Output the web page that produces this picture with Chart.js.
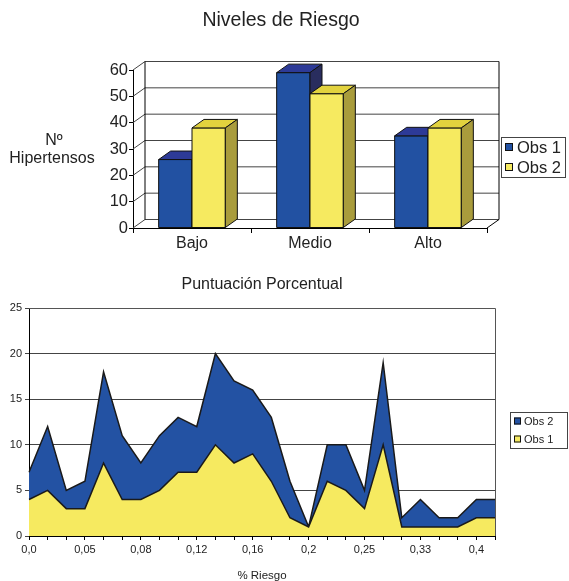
<!DOCTYPE html>
<html>
<head>
<meta charset="utf-8">
<script src="https://cdn.jsdelivr.net/npm/chart.js@4"></script>
<style>
  html, body { margin: 0; padding: 0; background: #fff; }
  #wrap { position: relative; width: 569px; height: 581px; }
  canvas { position: absolute; left: 0; }
</style>
</head>
<body>
<div id="wrap">
  <canvas id="niveles" width="569" height="262" style="top:0"></canvas>
  <canvas id="puntuacion" width="569" height="319" style="top:262px"></canvas>
</div>
<script>
// Niveles de Riesgo
const riskLevels = ['Bajo', 'Medio', 'Alto'];
const obs1Levels = [26, 59, 35];
const obs2Levels = [38, 51, 38];
const levelTicks = [0, 10, 20, 30, 40, 50, 60];

// Puntuación Porcentual
const riskPct = ['0,0', '', '', '0,05', '', '', '0,08', '', '', '0,12', '', '', '0,16',
                 '', '', '0,2', '', '', '0,25', '', '', '0,33', '', '', '0,4', ''];
const obs1Pct = [4, 5, 3, 3, 8, 4, 4, 5, 7, 7, 10, 8, 9, 6, 2, 1, 6, 5, 3, 10, 1, 1, 1, 1, 2, 2];
const obs2Pct = [3, 7, 2, 3, 10, 7, 4, 6, 6, 5, 10, 9, 7, 7, 4, 0, 4, 5, 2, 9, 1, 3, 1, 1, 2, 2];
const pctTicks = [0, 5, 10, 15, 20, 25];

const FONT = '"Liberation Sans", Arial, sans-serif';
const TEXT = '#222';
const BLUE = '#2251A2';
const YELLOW = '#F6EA60';

// oblique depth of the 3D box
const DX = 12, DY = 8.5;

// walls, floor and gridlines of the 3D box, behind the columns
const wall3d = {
  id: 'wall3d',
  beforeDatasetsDraw(chart) {
    const { ctx, chartArea: a, scales: { y } } = chart;
    ctx.save();
    ctx.lineWidth = 1;
    ctx.strokeStyle = '#444';
    levelTicks.forEach(v => {
      const py = y.getPixelForValue(v);
      ctx.beginPath();
      ctx.moveTo(a.left, py);
      ctx.lineTo(a.left + DX, py - DY);
      ctx.lineTo(a.right + DX, py - DY);
      ctx.stroke();
    });
    ctx.strokeStyle = '#000';
    ctx.beginPath();
    // left wall back edge
    ctx.moveTo(a.left + DX, a.top - DY);
    ctx.lineTo(a.left + DX, a.bottom - DY);
    // back wall right edge
    ctx.moveTo(a.right + DX, a.top - DY);
    ctx.lineTo(a.right + DX, a.bottom - DY);
    // floor right edge
    ctx.lineTo(a.right, a.bottom);
    ctx.stroke();
    ctx.restore();
  }
};

// front, top and side faces of each column, category by category
const bars3d = {
  id: 'bars3d',
  afterDatasetsDraw(chart) {
    const ctx = chart.ctx;
    const sets = chart.data.datasets;
    const metas = sets.map((d, i) => chart.getDatasetMeta(i));
    ctx.save();
    ctx.lineWidth = 1;
    ctx.strokeStyle = '#111';
    ctx.lineJoin = 'round';
    for (let j = 0; j < chart.data.labels.length; j++) {
      metas.forEach((meta, i) => {
        const ds = sets[i];
        const { x, y, base, width } = meta.data[j].getProps(['x', 'y', 'base', 'width'], true);
        const l = x - width / 2, r = x + width / 2;
        const poly = (pts, fill) => {
          ctx.beginPath();
          ctx.moveTo(pts[0][0], pts[0][1]);
          for (let k = 1; k < pts.length; k++) ctx.lineTo(pts[k][0], pts[k][1]);
          ctx.closePath();
          ctx.fillStyle = fill;
          ctx.fill();
          ctx.stroke();
        };
        poly([[l, y], [r, y], [r, base], [l, base]], ds.backgroundColor);
        poly([[l, y], [l + DX, y - DY], [r + DX, y - DY], [r, y]], ds.topColor);
        poly([[r, y], [r + DX, y - DY], [r + DX, base - DY], [r, base]], ds.sideColor);
      });
    }
    ctx.restore();
  }
};

function legendBox(ctx, x, y, w, h, rows, size, sq, rowH, gap) {
  ctx.save();
  ctx.fillStyle = '#fff';
  ctx.fillRect(x, y, w, h);
  ctx.strokeStyle = '#444';
  ctx.lineWidth = 1;
  ctx.strokeRect(x + 0.5, y + 0.5, w, h);
  ctx.font = size + 'px ' + FONT;
  ctx.textBaseline = 'middle';
  rows.forEach((row, i) => {
    const cy = y + h / 2 + (i - (rows.length - 1) / 2) * rowH;
    ctx.fillStyle = row.color;
    ctx.fillRect(x + 4, cy - sq / 2, sq, sq);
    ctx.strokeStyle = '#111';
    ctx.strokeRect(x + 4.5, cy - sq / 2 + 0.5, sq - 1, sq - 1);
    ctx.fillStyle = TEXT;
    ctx.fillText(row.text, x + 4 + sq + gap, cy + 1);
  });
  ctx.restore();
}

const decorTop = {
  id: 'decorTop',
  afterDraw(chart) {
    const ctx = chart.ctx;
    ctx.save();
    ctx.fillStyle = TEXT;
    ctx.textAlign = 'center';
    ctx.textBaseline = 'middle';
    ctx.font = '19.5px ' + FONT;
    ctx.fillText('Niveles de Riesgo', 281, 21);
    ctx.font = '16px ' + FONT;
    ctx.textBaseline = 'alphabetic';
    ctx.fillText('Nº', 54, 145);
    ctx.fillText('Hipertensos', 52, 163);
    ctx.restore();
    const sets = chart.data.datasets;
    legendBox(ctx, 501, 137, 64, 40,
      sets.map(d => ({ text: d.label, color: d.backgroundColor })), 16.5, 8, 20, 4);
  }
};

new Chart(document.getElementById('niveles'), {
  type: 'bar',
  data: {
    labels: riskLevels,
    datasets: [
      { label: 'Obs 1', data: obs1Levels, backgroundColor: BLUE, topColor: '#2D3A97', sideColor: '#292D5E',
        borderColor: '#111', borderWidth: 1, categoryPercentage: 0.565, barPercentage: 1 },
      { label: 'Obs 2', data: obs2Levels, backgroundColor: YELLOW, topColor: '#E2D23E', sideColor: '#A99C3C',
        borderColor: '#111', borderWidth: 1, categoryPercentage: 0.565, barPercentage: 1 }
    ]
  },
  options: {
    responsive: false,
    animation: false,
    layout: { padding: { left: 93, right: 82, top: 70, bottom: 0 } },
    plugins: { legend: { display: false }, title: { display: false }, tooltip: { enabled: false } },
    scales: {
      x: {
        grid: { drawOnChartArea: false, drawTicks: true, tickLength: 5, color: '#000', offset: true },
        border: { display: true, color: '#000' },
        ticks: { font: { family: FONT, size: 16 }, color: TEXT, padding: 1 },
        afterFit(s) { s.height = 34; }
      },
      y: {
        min: 0, max: 60,
        ticks: { stepSize: 10, font: { family: FONT, size: 16.5 }, color: TEXT, padding: 1 },
        grid: { drawOnChartArea: false, tickLength: 4, color: '#000' },
        border: { display: true, color: '#000' },
        afterFit(s) { s.width = 40; }
      }
    }
  },
  plugins: [wall3d, bars3d, decorTop]
});

const decorBottom = {
  id: 'decorBottom',
  afterDatasetsDraw(chart) {
    const { ctx, chartArea: a } = chart;
    ctx.save();
    ctx.strokeStyle = '#555';
    ctx.lineWidth = 1;
    ctx.beginPath();
    ctx.moveTo(a.left, Math.round(a.top) + 0.5);
    ctx.lineTo(Math.round(a.right) + 0.5, Math.round(a.top) + 0.5);
    ctx.lineTo(Math.round(a.right) + 0.5, a.bottom);
    ctx.stroke();
    ctx.restore();
  },
  afterDraw(chart) {
    const ctx = chart.ctx;
    ctx.save();
    ctx.fillStyle = TEXT;
    ctx.textAlign = 'center';
    ctx.textBaseline = 'middle';
    ctx.font = '16px ' + FONT;
    ctx.fillText('Puntuación Porcentual', 262, 23);
    ctx.font = '11.5px ' + FONT;
    ctx.fillText('% Riesgo', 262, 314);
    ctx.restore();
    const sets = chart.data.datasets.slice().reverse();
    legendBox(ctx, 510, 150, 57, 36,
      sets.map(d => ({ text: d.label, color: d.backgroundColor })), 11, 7, 18, 3);
  }
};

new Chart(document.getElementById('puntuacion'), {
  type: 'line',
  data: {
    labels: riskPct,
    datasets: [
      { label: 'Obs 1', data: obs1Pct, backgroundColor: YELLOW, borderColor: '#1a1a1a', borderWidth: 1.5,
        fill: 'origin', pointRadius: 0, tension: 0 },
      { label: 'Obs 2', data: obs2Pct, backgroundColor: '#2352A3', borderColor: '#1a1a1a', borderWidth: 1.5,
        fill: '-1', pointRadius: 0, tension: 0 }
    ]
  },
  options: {
    responsive: false,
    animation: false,
    layout: { padding: { left: 0, right: 74, top: 46, bottom: 20 } },
    plugins: { legend: { display: false }, title: { display: false }, tooltip: { enabled: false } },
    scales: {
      x: {
        offset: false,
        grid: { drawOnChartArea: false, tickLength: 4, color: '#000' },
        border: { display: true, color: '#000' },
        ticks: { autoSkip: false, maxRotation: 0, font: { family: FONT, size: 11 }, color: TEXT, padding: 3 },
        afterFit(s) { s.height = 25; }
      },
      y: {
        stacked: true,
        min: pctTicks[0], max: pctTicks[pctTicks.length - 1],
        ticks: { stepSize: 5, font: { family: FONT, size: 11 }, color: TEXT, padding: 3 },
        grid: { color: '#444', tickLength: 4 },
        border: { display: true, color: '#000' },
        afterFit(s) { s.width = 29; }
      }
    }
  },
  plugins: [decorBottom]
});
</script>
</body>
</html>
